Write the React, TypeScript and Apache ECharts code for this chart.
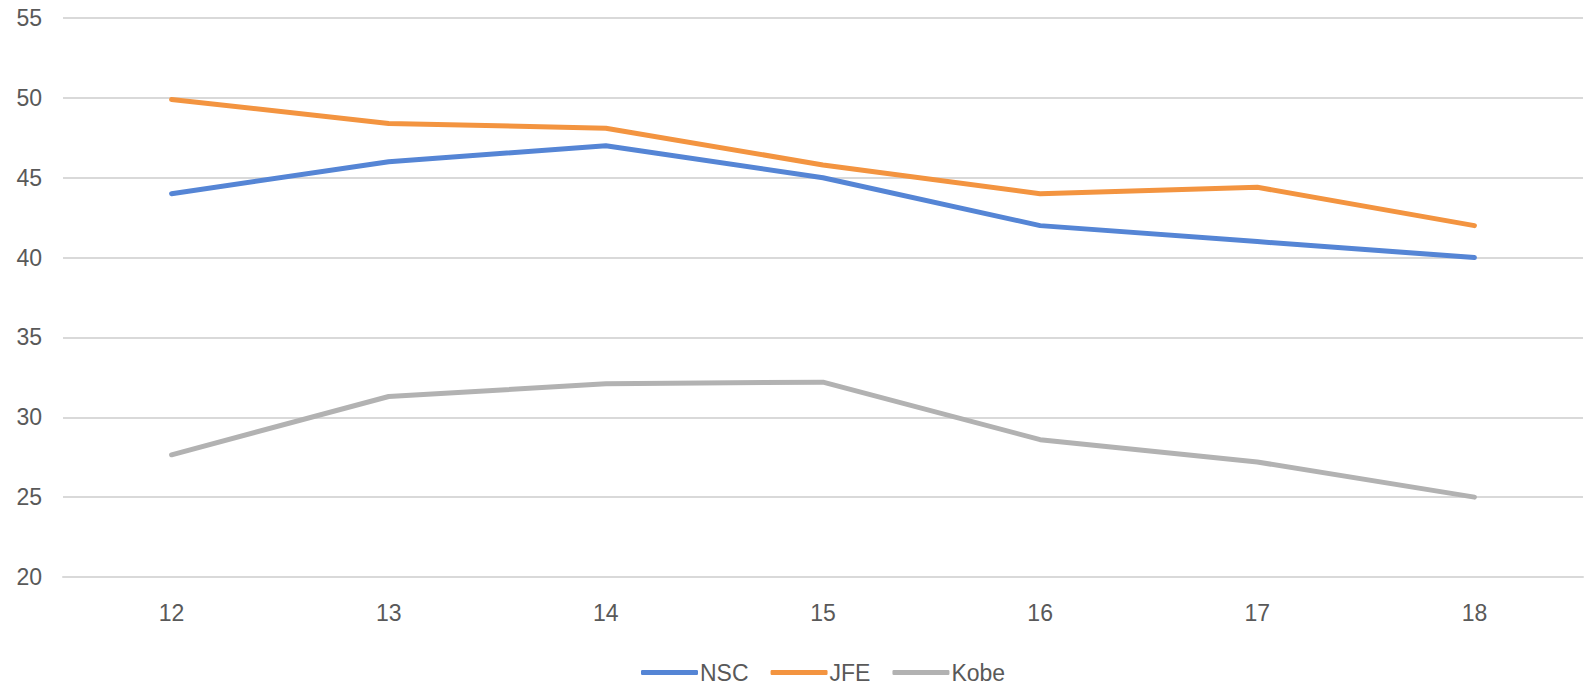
import React, { useEffect, useRef } from "react";
import * as echarts from "echarts";

const categories = ["12", "13", "14", "15", "16", "17", "18"];
const nscValues = [44, 46, 47, 45, 42, 41, 40];
const jfeValues = [49.9, 48.4, 48.1, 45.8, 44, 44.4, 42];
const kobeValues = [27.65, 31.3, 32.1, 32.2, 28.6, 27.2, 25];
const seriesNames = ["NSC", "JFE", "Kobe"];
const seriesColors = ["#5585D5", "#F39440", "#B2B2B2"];

export default function App() {
  const ref = useRef<HTMLDivElement>(null);
  useEffect(() => {
    if (!ref.current) return;
    const chart = echarts.init(ref.current, undefined, { renderer: "svg" });
    const data = [nscValues, jfeValues, kobeValues];
    chart.setOption({
      animation: false,
      backgroundColor: "#ffffff",
      textStyle: { fontFamily: "Liberation Sans, Arial, sans-serif" },
      grid: { left: 63, right: 8, top: 18, bottom: 109, containLabel: false },
      legend: {
        bottom: -3,
        left: 636,
        itemWidth: 57,
        itemHeight: 5,
        itemGap: 22,
        icon: "roundRect",
        textStyle: { fontSize: 23, color: "#595959", padding: [0, 0, 0, -3] },
        data: seriesNames,
      },
      xAxis: {
        type: "category",
        data: categories,
        boundaryGap: true,
        axisLine: { show: true, lineStyle: { color: "#D9D9D9", width: 2 } },
        axisTick: { show: false },
        axisLabel: { fontSize: 23, color: "#595959", margin: 24 },
      },
      yAxis: {
        type: "value",
        min: 20,
        max: 55,
        interval: 5,
        axisLine: { show: false },
        axisTick: { show: false },
        splitLine: { lineStyle: { color: "#D9D9D9", width: 2 } },
        axisLabel: { fontSize: 23, color: "#595959", margin: 21 },
      },
      series: seriesNames.map((name, i) => ({
        name,
        type: "line",
        data: data[i],
        symbol: "none",
        lineStyle: { color: seriesColors[i], width: 5, cap: "round", join: "round" },
        itemStyle: { color: seriesColors[i] },
      })),
    });
    return () => chart.dispose();
  }, []);
  return (
    <div
      ref={ref}
      style={{ position: "fixed", left: 0, top: 0, width: 1591, height: 686 }}
    />
  );
}
